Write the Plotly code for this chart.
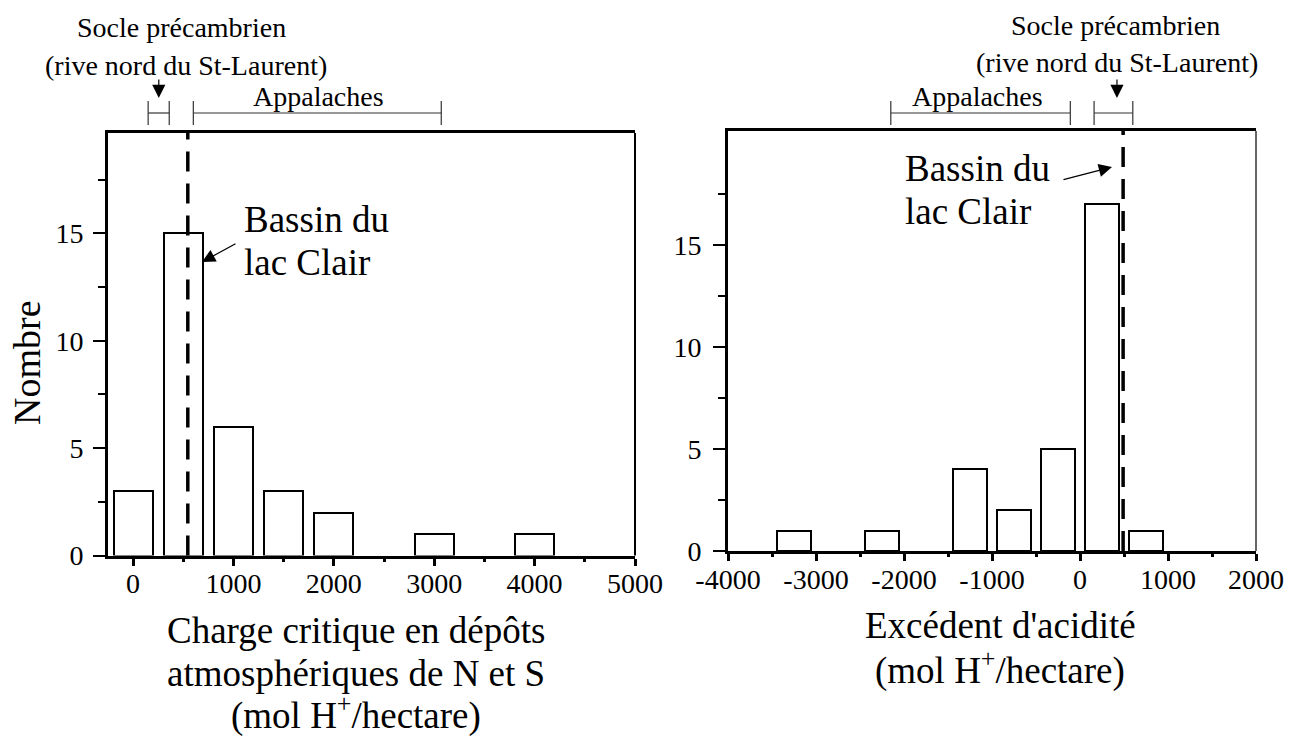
import plotly.graph_objects as go

# Histogram 1: critical load of N and S atmospheric deposition
load_centers = [0, 500, 1000, 1500, 2000, 3000, 4000]
load_counts = [3, 15, 6, 3, 2, 1, 1]
load_ticks = [0, 1000, 2000, 3000, 4000, 5000]
load_minor = [500, 1500, 2500, 3500, 4500]
load_bassin = 545
load_socle = [150, 360]
load_appalaches = [600, 3070]
load_socle_arrow = 256

# Histogram 2: acidity excess
acid_centers = [-3250, -2250, -1250, -750, -250, 250, 750]
acid_counts = [1, 1, 4, 2, 5, 17, 1]
acid_ticks = [-4000, -3000, -2000, -1000, 0, 1000, 2000]
acid_minor = [-3500, -2500, -1500, -500, 500, 1500]
acid_bassin = 490
acid_socle = [160, 600]
acid_appalaches = [-2150, -110]
acid_socle_arrow = 420

count_ticks = [0, 5, 10, 15]
count_minor = [2.5, 7.5, 12.5, 17.5]

W, H = 1310, 739
FONT = "Liberation Serif"


def px(x):
    return x / W


def py(y):
    return 1 - y / H


fig = go.Figure()
bar_style = dict(marker=dict(color="white", line=dict(color="black", width=2)),
                 width=390, showlegend=False, hoverinfo="skip")
fig.add_trace(go.Bar(x=load_centers, y=load_counts, xaxis="x", yaxis="y", **bar_style))
fig.add_trace(go.Bar(x=acid_centers, y=acid_counts, xaxis="x2", yaxis="y2", **bar_style))


def xaxis_style(dom, rng, ticks, minor, anchor):
    return dict(domain=dom, range=rng, anchor=anchor, tickmode="array", tickvals=ticks,
                ticktext=[str(t) for t in ticks], ticks="outside", ticklen=7, tickwidth=3,
                tickcolor="black", showline=True, linewidth=3, linecolor="black", mirror=True,
                showgrid=False, zeroline=False, automargin=False, ticklabelstandoff=-6,
                tickfont=dict(family=FONT, size=28, color="black"),
                minor=dict(tickmode="array", tickvals=minor, ticks="outside", ticklen=3,
                           tickwidth=3, tickcolor="black"),
                fixedrange=True)


def yaxis_style(dom, rng, anchor, standoff):
    return dict(domain=dom, range=rng, anchor=anchor, tickmode="array", tickvals=count_ticks,
                ticks="outside", ticklen=12, tickwidth=2, tickcolor="black",
                showline=True, linewidth=3, linecolor="black", showgrid=False, zeroline=False,
                automargin=False, ticklabelstandoff=standoff,
                tickfont=dict(family=FONT, size=28, color="black"),
                minor=dict(tickmode="array", tickvals=count_minor, ticks="outside", ticklen=7,
                           tickwidth=2, tickcolor="black"),
                fixedrange=True)


fig.update_layout(
    width=W, height=H,
    margin=dict(l=0, r=0, t=0, b=0, autoexpand=False),
    paper_bgcolor="white", plot_bgcolor="white",
    font=dict(family=FONT, color="black"),
    bargap=0,
    xaxis=xaxis_style([px(108), px(635)], [-250, 5000], load_ticks, load_minor, "y"),
    yaxis=yaxis_style([py(555.5), py(133)], [0, 19.67], "x", 4),
    xaxis2=xaxis_style([px(728), px(1256)], [-4000, 2000], acid_ticks, acid_minor, "y2"),
    yaxis2=yaxis_style([py(551), py(131)], [0, 20.6], "x2", 6),
)

shapes = []
# right borders of the frames
shapes.append(dict(type="line", xref="x domain", yref="y domain", x0=1, x1=1, y0=0, y1=1,
                   line=dict(color="black", width=2)))
shapes.append(dict(type="line", xref="x2 domain", yref="y2 domain", x0=1, x1=1, y0=0, y1=1,
                   line=dict(color="black", width=1.2)))
# dashed marker for the lac Clair basin
for xr, yr, xv in [("x", "y domain", load_bassin), ("x2", "y2 domain", acid_bassin)]:
    shapes.append(dict(type="line", xref=xr, yref=yr, x0=xv, x1=xv, y0=0, y1=1,
                       line=dict(color="black", width=3.5, dash="20px,12px")))
# range brackets above the frames
for xr, rng in [("x", load_socle), ("x", load_appalaches),
                ("x2", acid_socle), ("x2", acid_appalaches)]:
    shapes.append(dict(type="line", xref=xr, yref="paper", x0=rng[0], x1=rng[1],
                       y0=py(113), y1=py(113), line=dict(color="#333333", width=1.2)))
    for xv in rng:
        shapes.append(dict(type="line", xref=xr, yref="paper", x0=xv, x1=xv,
                           y0=py(101), y1=py(125), line=dict(color="#333333", width=1.2)))
fig.update_layout(shapes=shapes)

ann = []


def text(x, y, s, size, **kw):
    ann.append(dict(xref="paper", yref="paper", x=px(x), y=py(y), text=s, showarrow=False,
                    font=dict(family=FONT, size=size, color="black"),
                    xanchor=kw.get("xanchor", "center"), yanchor="middle",
                    textangle=kw.get("textangle", 0)))


# region labels
text(181, 28, "Socle précambrien", 28)
text(186, 65, "(rive nord du St-Laurent)", 28)
text(318, 96, "Appalaches", 28)
text(1115, 25, "Socle précambrien", 28)
text(1117, 63, "(rive nord du St-Laurent)", 28)
text(978, 96, "Appalaches", 28)

# basin labels
text(242, 219, "Bassin du", 37, xanchor="left")
text(242, 262, "lac Clair", 37, xanchor="left")
text(903, 168, "Bassin du", 37, xanchor="left")
text(903, 211, "lac Clair", 37, xanchor="left")

# axis titles
text(27, 363, "Nombre", 38, textangle=-90)
text(356, 630, "Charge critique en dépôts", 37)
text(356, 673, "atmosphériques de N et S", 37)
text(356, 713, "(mol H<sup>+</sup>/hectare)", 37)
text(1000, 625, "Excédent d'acidité", 37)
text(1000, 668, "(mol H<sup>+</sup>/hectare)", 37)

# arrows to the Precambrian bracket
for xr, xv in [("x", load_socle_arrow), ("x2", acid_socle_arrow)]:
    ann.append(dict(xref=xr, yref="paper", x=xv, y=py(98), text="", showarrow=True,
                    ax=0, ay=-20, arrowhead=2, arrowsize=2.2, arrowwidth=1.2,
                    arrowcolor="black"))

# arrows to the basin markers
ann.append(dict(xref="paper", yref="paper", x=px(202), y=py(262), text="", showarrow=True,
                ax=35, ay=-19, arrowhead=2, arrowsize=2.2, arrowwidth=1.2, arrowcolor="black"))
ann.append(dict(xref="paper", yref="paper", x=px(1112), y=py(167), text="", showarrow=True,
                ax=-50, ay=13, arrowhead=2, arrowsize=2.2, arrowwidth=1.2, arrowcolor="black"))

fig.update_layout(annotations=ann)
fig.write_html("out.html", config={"displayModeBar": False})
